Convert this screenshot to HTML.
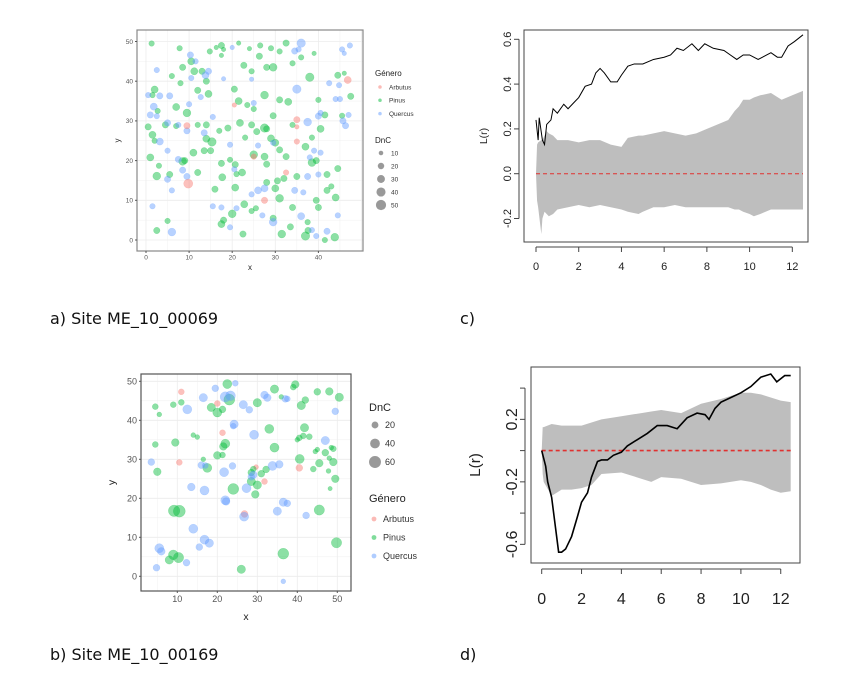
<!DOCTYPE html>
<html><head><meta charset="utf-8"><style>
body{margin:0;background:#fff;width:855px;height:680px;overflow:hidden;font-family:"Liberation Sans",sans-serif}
.cap{position:absolute;font-family:"DejaVu Sans",sans-serif;font-size:16px;color:#111}
svg{position:absolute;left:0;top:0}
</style></head><body>
<div class="cap" style="left:50px;top:309px">a) Site ME_10_00069</div>
<div class="cap" style="left:460px;top:309px">c)</div>
<div class="cap" style="left:50px;top:645px">b) Site ME_10_00169</div>
<div class="cap" style="left:460px;top:645px">d)</div>
<svg id="s" width="855" height="680"></svg>
<script>
// ---- data: panel a (x, y, DnC, genus 0=Arbutus 1=Pinus 2=Quercus)
const ptsA=[[1.3,49.5,15,1],[7.8,48.3,15,1],[17.5,49,20,1],[18,48,10,1],[21.5,49.6,10,1],[24,48.2,10,1],[26.5,49,15,1],[29,48.3,15,1],[31,47.5,15,1],[32.5,49.6,20,1],[36,46,15,1],[39,47,10,1],[34,44.5,15,1],[28,43.5,20,1],[29.5,43.5,30,1],[22.7,44,20,1],[24.5,42.5,15,1],[10.5,45,25,1],[8.5,43.5,20,1],[11.2,42.5,25,1],[13,42.5,20,1],[14.8,47.5,15,1],[6,41.3,15,1],[2,37.9,25,1],[1.5,36.5,15,1],[12,37.7,20,1],[14.5,36.8,25,1],[8,39.5,15,1],[14,40,20,1],[20.5,38,20,1],[21.5,35,25,1],[23.5,34,15,1],[27.5,36.5,30,1],[31,35.3,20,1],[33,34.8,25,1],[38,41,35,1],[44.5,41.5,20,1],[46,42,10,1],[47.5,36.2,20,1],[40,35.3,15,1],[25,33,15,1],[29.5,31.3,20,1],[27.5,28.2,35,1],[24.5,29,20,1],[21.8,29.5,25,1],[19,28.2,20,1],[17,27.5,15,1],[14,29,20,1],[12,29,15,1],[7,28.7,15,1],[4.5,29,20,1],[0.5,28.5,20,1],[1.5,26.5,25,1],[2,25,15,1],[9.5,32,30,1],[7,33.5,25,1],[2.7,32.5,15,1],[14,25.5,25,1],[15.3,24.7,35,1],[11,22,25,1],[13.5,22.5,20,1],[9,20,20,1],[1,20.8,25,1],[3,18.7,15,1],[2.5,16.1,30,1],[5.5,16.5,20,1],[12,17,20,1],[17.5,19.3,20,1],[19.5,20.2,15,1],[21,16.6,15,1],[22.3,17,25,1],[25,21.5,30,1],[27.5,21,25,1],[28,19.1,20,1],[30,24.5,25,1],[31,22.7,20,1],[32.5,21,20,1],[29,25.6,25,1],[23,25.8,15,1],[37,23.5,25,1],[38.5,19.5,30,1],[35,16,20,1],[39.5,20,20,1],[42,16.5,20,1],[44.5,18,20,1],[42,12.5,20,1],[43,13.5,15,1],[44,10.7,25,1],[39.5,10,20,1],[40,8.2,20,1],[37.5,4.5,15,1],[37,1,35,1],[37.6,2.4,20,1],[43.8,0.7,30,1],[41.5,0,15,1],[33.5,3.3,20,1],[34,8.2,20,1],[31,10.5,30,1],[30,13,25,1],[28,14.5,20,1],[25.5,8,15,1],[22.8,9,25,1],[24.5,7.3,15,1],[20,6.6,30,1],[17.5,4,25,1],[18,5,20,1],[22.5,1.5,20,1],[31.5,1.5,30,1],[29.5,5.5,20,1],[30.5,14.9,20,1],[32,15.5,20,1],[16,12.8,20,1],[17.7,15.8,25,1],[20.7,13.2,25,1],[20.7,19,20,1],[5,4.8,15,1],[2.5,2.4,20,1],[8.5,19.8,30,1],[15,22.5,20,1],[28,28,20,1],[25.7,27.3,20,1],[34,29,15,1],[40.5,28,25,1],[38.5,25.8,15,1],[41.5,31.5,20,1],[45.5,31.3,15,1],[26.3,46.3,20,1],[17.5,46.5,10,1],[16.3,48.5,10,1],
[36,49.6,35,2],[34.5,47.6,20,2],[35.4,48,15,2],[10.3,46.6,20,2],[11.5,45,15,2],[2.5,42.8,15,2],[13.8,41.5,25,2],[14.5,42.5,20,2],[10.5,40.8,15,2],[12.7,36,15,2],[3.2,36.3,20,2],[5.5,36.3,20,2],[0.5,36.5,15,2],[1.8,33.6,25,2],[1,31.5,20,2],[2.5,31.2,15,2],[10,34.2,15,2],[13.5,27,20,2],[9.5,27.5,20,2],[3.2,24.8,25,2],[5,22.5,15,2],[7.5,20.3,20,2],[8.5,17.6,20,2],[9.5,16,20,2],[5,15.3,20,2],[6,12.5,15,2],[1.5,8.5,15,2],[6,2,30,2],[19.5,3.2,15,2],[17.5,8.2,15,2],[15.5,8.5,15,2],[26,12.5,25,2],[27.5,13,25,2],[27,6.2,15,2],[29.5,4.5,30,2],[36,6,25,2],[38.5,2.5,15,2],[39.5,1,15,2],[42,2.2,20,2],[44.5,6.2,15,2],[36.5,12,15,2],[37.5,16,20,2],[40,16.5,15,2],[38,20.8,15,2],[39,22.5,15,2],[40.5,22,15,2],[40,31.2,20,2],[40.5,32,15,2],[45.7,30,20,2],[46.3,28.8,20,2],[47,31.5,15,2],[44,35.5,15,2],[45,35.5,15,2],[35,38,35,2],[44.8,39,15,2],[45.5,48,15,2],[47.3,49,15,2],[46,47,10,2],[37.5,29.7,30,2],[26,23.8,15,2],[20.5,17.8,15,2],[19.5,24,15,2],[15.5,31,15,2],[18,40.6,10,2],[24.5,40.5,10,2],[20,48.5,10,2],[25,34.5,15,2],[29.5,24.5,15,2],[21,8,15,2],[24.5,11.5,15,2],[34.5,12.5,20,2],[42.5,39.5,15,2],[7.5,29,15,2],[5,29.5,20,2],
[9.5,28.8,20,0],[9.8,14.2,40,0],[20.5,34,10,0],[35,30.3,20,0],[35,24.8,15,0],[32.5,17,15,0],[46.8,40.3,25,0],[27.5,10,20,0],[25,21,15,0],[35,28.5,10,0]];
// ---- data: panel b
const ptsB=[[11,47.3,15,0],[20,44.3,15,0],[21.3,36.8,15,0],[10.5,29.2,15,0],[29.7,28,10,0],[31.8,24.3,15,0],[26.8,16,20,0],[40.5,27.8,20,0],
[22.5,49.3,35,1],[39.5,49.2,25,1],[39,48.5,15,1],[34.3,48,30,1],[45,47.3,20,1],[48,47.4,25,1],[50.5,45.9,30,1],[42,45.2,20,1],[41,43.8,30,1],[23,45.3,50,1],[30,44.5,30,1],[18.5,43.3,30,1],[20,42,35,1],[21.3,42.8,20,1],[4.5,43.5,15,1],[9,44,15,1],[11,44.6,15,1],[5.5,41.5,10,1],[14,36.2,10,1],[15,35.7,10,1],[9.5,34.3,25,1],[4.5,33.8,15,1],[22,34,35,1],[21.5,33.3,25,1],[20,31,25,1],[21.3,31.1,15,1],[16.5,30,10,1],[17.5,27.8,35,1],[33,37.8,35,1],[34.3,33,35,1],[41.8,38.1,30,1],[41.5,36,15,1],[40.5,35.5,15,1],[43,35.8,15,1],[40,35,10,1],[40.6,30.1,35,1],[44,27.5,15,1],[45.5,29,25,1],[47,31.7,20,1],[49,32.7,15,1],[48.5,33,10,1],[44.5,32,10,1],[45,32.5,10,1],[49,29.3,25,1],[48,30.3,10,1],[49.5,25,25,1],[47.8,27,10,1],[48.2,22.5,8,1],[5,26.8,25,1],[24,22.4,50,1],[28.5,24.3,30,1],[30,23.4,30,1],[29.5,21,25,1],[28.5,26.6,20,1],[31,26.3,20,1],[32.2,27.4,20,1],[29,27.5,15,1],[9.2,16.8,55,1],[10.5,16.7,60,1],[8,4.2,30,1],[9,5.5,40,1],[10.3,4.8,45,1],[26,1.8,30,1],[36.5,5.8,50,1],[45.5,17,45,1],[49.8,8.6,45,1],[36,46,10,1],
[3.5,29.3,20,2],[12.5,42.8,35,2],[16.5,45.8,30,2],[19.5,48.2,20,2],[22,46,45,2],[23.3,46.3,40,2],[24.5,49.5,15,2],[26.5,44,30,2],[28,42.7,20,2],[31.8,46.5,25,2],[32.5,45.8,25,2],[37,45.5,20,2],[37.5,45.5,15,2],[49.5,42.3,20,2],[24.2,39,30,2],[24,38.5,15,2],[29.2,36.3,35,2],[47,34.8,30,2],[16,28.5,20,2],[17,28.4,15,2],[21.7,26.7,35,2],[23.8,28.3,20,2],[33.8,28.3,35,2],[35.5,28.7,25,2],[29,26,25,2],[28.5,25.5,20,2],[27.3,22.6,35,2],[13.5,22.9,25,2],[16.8,22,35,2],[22,19.5,35,2],[22.2,19.2,25,2],[36.5,19,30,2],[37.5,18.7,20,2],[35,16.7,30,2],[42.2,15.6,20,2],[26.7,15.3,35,2],[14,12.2,35,2],[16.8,9.4,35,2],[18,8.5,30,2],[15.5,7.5,20,2],[5.5,7.2,35,2],[6,6.4,25,2],[12.3,3.5,20,2],[4.8,2.2,20,2],[36.5,-1.3,10,2]];
// ---- data: panel c
const rC=[0,0.1,0.15,0.3,0.4,0.5,0.7,0.8,1,1.3,1.5,1.8,2,2.3,2.6,2.8,3,3.2,3.5,3.8,4,4.3,4.6,5,5.5,6,6.3,6.6,6.9,7.3,7.6,7.9,8.3,8.8,9.1,9.4,9.7,10,10.4,10.8,11,11.3,11.5,11.8,12.1,12.5];
const LC=[0.24,0.15,0.25,0.15,0.13,0.22,0.24,0.29,0.27,0.31,0.29,0.32,0.34,0.39,0.40,0.45,0.47,0.45,0.41,0.41,0.44,0.48,0.49,0.49,0.51,0.52,0.53,0.56,0.55,0.58,0.55,0.58,0.56,0.55,0.53,0.51,0.53,0.53,0.51,0.53,0.54,0.52,0.52,0.57,0.59,0.62];
const eCr=[0,0.05,0.1,0.25,0.3,0.4,0.5,0.6,0.8,1,1.5,2,2.5,3,3.5,4,4.3,4.8,5,5.5,6,6.5,7,7.5,8,9,9.3,9.5,9.7,10,10.2,10.5,11,11.5,12,12.5];
const eChi=[0,0.13,0.14,0.15,0.15,0.17,0.19,0.18,0.17,0.15,0.15,0.14,0.15,0.15,0.13,0.12,0.16,0.17,0.17,0.18,0.19,0.18,0.17,0.18,0.2,0.24,0.28,0.3,0.33,0.33,0.34,0.35,0.36,0.33,0.35,0.37];
const eClo=[0,-0.12,-0.15,-0.27,-0.2,-0.17,-0.18,-0.19,-0.18,-0.16,-0.15,-0.14,-0.15,-0.14,-0.15,-0.16,-0.17,-0.18,-0.17,-0.15,-0.15,-0.14,-0.15,-0.15,-0.15,-0.15,-0.16,-0.16,-0.17,-0.18,-0.19,-0.18,-0.16,-0.16,-0.16,-0.16];
// ---- data: panel d
const rD=[0,0.2,0.3,0.5,0.7,0.85,1,1.2,1.5,1.8,2,2.3,2.5,2.8,3,3.3,3.6,4,4.3,4.8,5.3,5.8,6.3,6.8,7.3,7.8,8.2,8.4,8.7,9,9.5,10,10.5,11,11.5,11.8,12.2,12.5];
const LD=[0,-0.1,-0.2,-0.3,-0.5,-0.65,-0.65,-0.63,-0.55,-0.42,-0.33,-0.27,-0.17,-0.07,-0.06,-0.06,-0.03,-0.01,0.03,0.07,0.11,0.16,0.16,0.14,0.21,0.24,0.23,0.2,0.27,0.31,0.34,0.37,0.41,0.47,0.49,0.44,0.48,0.48];
const eDr=[0,0.05,0.1,0.5,1,1.5,2,2.5,3,4,5,5.5,6,7,8,9,10,10.5,11,11.5,12,12.5];
const eDhi=[0,0.15,0.15,0.17,0.16,0.16,0.16,0.18,0.2,0.22,0.24,0.25,0.26,0.24,0.3,0.33,0.37,0.37,0.36,0.34,0.32,0.31];
const eDlo=[0,-0.15,-0.2,-0.29,-0.25,-0.25,-0.24,-0.22,-0.15,-0.14,-0.18,-0.2,-0.17,-0.18,-0.22,-0.21,-0.19,-0.2,-0.22,-0.25,-0.27,-0.26];
const genera=['Arbutus','Pinus','Quercus'];
const gcol=['#F8766D','#00BA38','#619CFF'];

const S=document.getElementById('s');const NS='http://www.w3.org/2000/svg';
function mk(t,a,p){const e=document.createElementNS(NS,t);for(const k in a)e.setAttribute(k,a[k]);(p||S).appendChild(e);return e;}
function txt(x,y,s,size,opts,p){const e=mk('text',Object.assign({x:x,y:y,'font-size':size,'font-family':'Liberation Sans, sans-serif',fill:'#333'},opts||{}),p);e.textContent=s;return e;}

function scatter(cfg){
  const g=mk('g',{});
  
  
  const X=v=>cfg.x0+(v-cfg.xmin)*cfg.xs, Y=v=>cfg.y0-(v-cfg.ymin)*cfg.ys;
  mk('rect',{x:cfg.L,y:cfg.T,width:cfg.R-cfg.L,height:cfg.B-cfg.T,fill:'#fff'},g);
  for(let v=cfg.gx0;v<=cfg.gx1;v+=cfg.gstep/2){const x=X(v);if(x>cfg.L&&x<cfg.R)mk('line',{x1:x,x2:x,y1:cfg.T,y2:cfg.B,stroke:'#ececec','stroke-width':(v%cfg.gstep==0)?0.8:0.4},g);}
  for(let v=cfg.gy0;v<=cfg.gy1;v+=cfg.gstep/2){const y=Y(v);if(y>cfg.T&&y<cfg.B)mk('line',{x1:cfg.L,x2:cfg.R,y1:y,y2:y,stroke:'#ececec','stroke-width':(v%cfg.gstep==0)?0.8:0.4},g);}
  cfg.pts.forEach(p=>{const c=mk('circle',{cx:X(p[0]),cy:Y(p[1]),r:cfg.rk*Math.sqrt(p[2]),fill:gcol[p[3]],'fill-opacity':0.45,stroke:gcol[p[3]],'stroke-opacity':0.3,'stroke-width':0.5},g);
    
    });
  mk('rect',{x:cfg.L,y:cfg.T,width:cfg.R-cfg.L,height:cfg.B-cfg.T,fill:'none',stroke:cfg.border,'stroke-width':1.2},g);
  cfg.xt.forEach(v=>{const x=X(v);mk('line',{x1:x,x2:x,y1:cfg.B,y2:cfg.B+2,stroke:'#555'},g);txt(x,cfg.B+cfg.fs+2,String(v),cfg.fs,{'text-anchor':'middle',fill:'#555'},g);});
  cfg.yt.forEach(v=>{const y=Y(v);mk('line',{x1:cfg.L-2,x2:cfg.L,y1:y,y2:y,stroke:'#555'},g);txt(cfg.L-4,y+cfg.fs*0.35,String(v),cfg.fs,{'text-anchor':'end',fill:'#555'},g);});
  txt((cfg.L+cfg.R)/2,cfg.xlabY,'x',cfg.fs+1.5,{'text-anchor':'middle',fill:'#222'},g);
  txt(cfg.ylabX,(cfg.T+cfg.B)/2,'y',cfg.fs+1.5,{'text-anchor':'middle',fill:'#222',transform:'rotate(-90 '+cfg.ylabX+' '+(cfg.T+cfg.B)/2+')'},g);
  txt(cfg.lx,cfg.gTitleY,'Género',cfg.lt,{fill:'#222'},g);
  genera.forEach((n,i)=>{const y=cfg.gTitleY+cfg.gFirst+i*cfg.gStep;mk('circle',{cx:cfg.lx+5,cy:y,r:cfg.lt*0.22,fill:gcol[i],'fill-opacity':0.5},g);txt(cfg.lx+14,y+cfg.ls*0.35,n,cfg.ls,{fill:'#333'},g);});
  txt(cfg.lx,cfg.dTitleY,'DnC',cfg.lt,{fill:'#222'},g);
  cfg.dnc.forEach((d,i)=>{const y=cfg.dTitleY+cfg.dFirst+i*cfg.dStep;mk('circle',{cx:cfg.lx+6,cy:y,r:cfg.rk*Math.sqrt(d),fill:'#000','fill-opacity':0.4},g);txt(cfg.lx+16,y+cfg.ls*0.35,String(d),cfg.ls,{fill:'#333'},g);});
}
scatter({name:'scatter-site-00069',pts:ptsA,L:137,R:363,T:30,B:251,x0:146,xmin:0,xs:4.31,y0:240,ymin:0,ys:3.97,gx0:0,gx1:50,gy0:-5,gy1:55,gstep:10,rk:0.72,border:'#888',fs:6.5,
  xt:[0,10,20,30,40],yt:[0,10,20,30,40,50],xlabY:270,ylabX:120,lx:375,gTitleY:76,gFirst:11,gStep:13.3,dTitleY:143,dFirst:10,dStep:13,dnc:[10,20,30,40,50],lt:8,ls:6.5});
scatter({name:'scatter-site-00169',pts:ptsB,L:141,R:351,T:374,B:591,x0:137.3,xmin:0,xs:4.0,y0:576.3,ymin:0,ys:3.9,gx0:0,gx1:55,gy0:-5,gy1:55,gstep:10,rk:0.77,border:'#555',fs:9,
  xt:[10,20,30,40,50],yt:[0,10,20,30,40,50],xlabY:620,ylabX:115,lx:369,gTitleY:502,gFirst:17,gStep:18.5,dTitleY:411,dFirst:14,dStep:18.5,dnc:[20,40,60],lt:11,ls:9});

function envChart(cfg){
  const g=mk('g',{});
  
  
  const X=v=>cfg.x0+v*cfg.xs, Y=v=>cfg.y0-v*cfg.ys;
  let d='M'+cfg.er.map((r,i)=>X(r)+','+Y(cfg.hi[i])).join('L');
  for(let i=cfg.er.length-1;i>=0;i--)d+='L'+X(cfg.er[i])+','+Y(cfg.lo[i]);
  const env=mk('path',{d:d+'Z',fill:'#bebebe'},g);
  
  
  const th=mk('line',{x1:X(0),x2:X(cfg.er[cfg.er.length-1]),y1:Y(0),y2:Y(0),stroke:'#e0312f','stroke-width':cfg.lw,'stroke-dasharray':'4 3'},g);
  
  
  const ln=mk('polyline',{points:cfg.r.map((r,i)=>X(r)+','+Y(cfg.L[i])).join(' '),fill:'none',stroke:'#000','stroke-width':cfg.lw},g);
  
  
  mk('rect',{x:cfg.Lx,y:cfg.T,width:cfg.Rx-cfg.Lx,height:cfg.B-cfg.T,fill:'none',stroke:'#444','stroke-width':1},g);
  mk('line',{x1:X(0),x2:X(12),y1:cfg.B+cfg.gap,y2:cfg.B+cfg.gap,stroke:'#444'},g);
  cfg.xt.forEach(v=>{const x=X(v);mk('line',{x1:x,x2:x,y1:cfg.B+cfg.gap,y2:cfg.B+cfg.gap+5,stroke:'#444'},g);txt(x,cfg.xlY,String(v),cfg.fs,{'text-anchor':'middle',fill:'#222'},g);});
  const yl=cfg.yt[0],yh=cfg.yt[cfg.yt.length-1];
  mk('line',{x1:cfg.Lx-cfg.gap,x2:cfg.Lx-cfg.gap,y1:Y(yl),y2:Y(yh),stroke:'#444'},g);
  cfg.yt.forEach((v,i)=>{const y=Y(v);mk('line',{x1:cfg.Lx-cfg.gap-5,x2:cfg.Lx-cfg.gap,y1:y,y2:y,stroke:'#444'},g);
    if(cfg.ylabs[i]){const lx=cfg.Lx-cfg.gap-8;txt(lx,y,cfg.ylabs[i],cfg.fs,{'text-anchor':'middle',fill:'#222',transform:'rotate(-90 '+lx+' '+y+')'},g);}});
  txt(cfg.labX,(cfg.T+cfg.B)/2,'L(r)',cfg.fs*0.95,{'text-anchor':'middle',fill:'#222',transform:'rotate(-90 '+cfg.labX+' '+(cfg.T+cfg.B)/2+')'},g);
}
envChart({name:'lfunction-site-00069',r:rC,L:LC,er:eCr,hi:eChi,lo:eClo,x0:536,xs:21.36,y0:173.7,ys:224,Lx:524,Rx:808,T:30,B:242,gap:5,lw:1,
  xt:[0,2,4,6,8,10,12],yt:[-0.2,0,0.2,0.4,0.6],ylabs:['-0.2','0.0','0.2','0.4','0.6'],fs:11,xlY:270,labX:487});
envChart({name:'lfunction-site-00169',r:rD,L:LD,er:eDr,hi:eDhi,lo:eDlo,x0:541.7,xs:19.92,y0:450.6,ys:156.25,Lx:531,Rx:800,T:367,B:563,gap:6,lw:1.6,
  xt:[0,2,4,6,8,10,12],yt:[-0.6,-0.4,-0.2,0,0.2,0.4],ylabs:['-0.6','','-0.2','','0.2',''],fs:16,xlY:604,labX:480});
</script>
</body></html>
